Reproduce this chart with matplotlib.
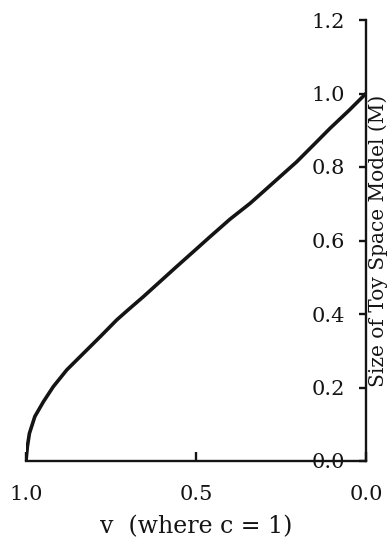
import matplotlib
matplotlib.use("Agg")
import matplotlib.pyplot as plt

plt.rcParams['font.family'] = ['DejaVu Serif']

# curve: speed v (c = 1) against size M
v = [1.0, 0.998, 0.996, 0.990, 0.974, 0.949, 0.920, 0.880, 0.831, 0.782,
     0.733, 0.700, 0.655, 0.600, 0.557, 0.500, 0.459, 0.400, 0.341, 0.302,
     0.250, 0.204, 0.150, 0.106, 0.050, 0.0]
M = [0.0, 0.020, 0.039, 0.075, 0.121, 0.161, 0.202, 0.248, 0.293, 0.338,
     0.384, 0.411, 0.447, 0.493, 0.529, 0.576, 0.610, 0.658, 0.701, 0.733,
     0.776, 0.814, 0.864, 0.905, 0.954, 1.0]

x_ticks = [1.0, 0.5, 0.0]
x_tick_labels = ['1.0', '0.5', '0.0']
y_ticks = [0.0, 0.2, 0.4, 0.6, 0.8, 1.0, 1.2]
y_tick_labels = ['0.0', '0.2', '0.4', '0.6', '0.8', '1.0', '1.2']

ink = '#141414'

fig = plt.figure(figsize=(3.91, 5.39), dpi=100)
ax = fig.add_axes([26 / 391, 1 - 461 / 539, 340 / 391, 441 / 539])

ax.plot(v, M, color=ink, linewidth=2.6, solid_joinstyle='round')

ax.set_xlim(1.0, 0.0)
ax.set_ylim(0.0, 1.2)

for side in ['left', 'top']:
    ax.spines[side].set_visible(False)
for side in ['right', 'bottom']:
    ax.spines[side].set_linewidth(1.7)
    ax.spines[side].set_color(ink)

ax.set_xticks(x_ticks)
ax.set_xticklabels(x_tick_labels)
ax.set_yticks(y_ticks)
ax.set_yticklabels(y_tick_labels)

ax.tick_params(axis='x', direction='in', length=6.5, width=1.7, color=ink,
               labelsize=15, pad=17, labelcolor=ink)
ax.tick_params(axis='y', left=False, right=True, labelleft=False, labelright=True,
               direction='in', length=5, width=1.7, color=ink,
               labelsize=15, pad=-15, labelcolor=ink)
for lab in ax.get_yticklabels():
    lab.set_horizontalalignment('right')

ax.set_xlabel('v  (where c = 1)', fontsize=17, color=ink, labelpad=8)
ax.yaxis.set_label_position('right')
ax.set_ylabel('Size of Toy Space Model (M)', fontsize=14.5, color=ink, labelpad=2)

fig.savefig('out.png', dpi=100)
